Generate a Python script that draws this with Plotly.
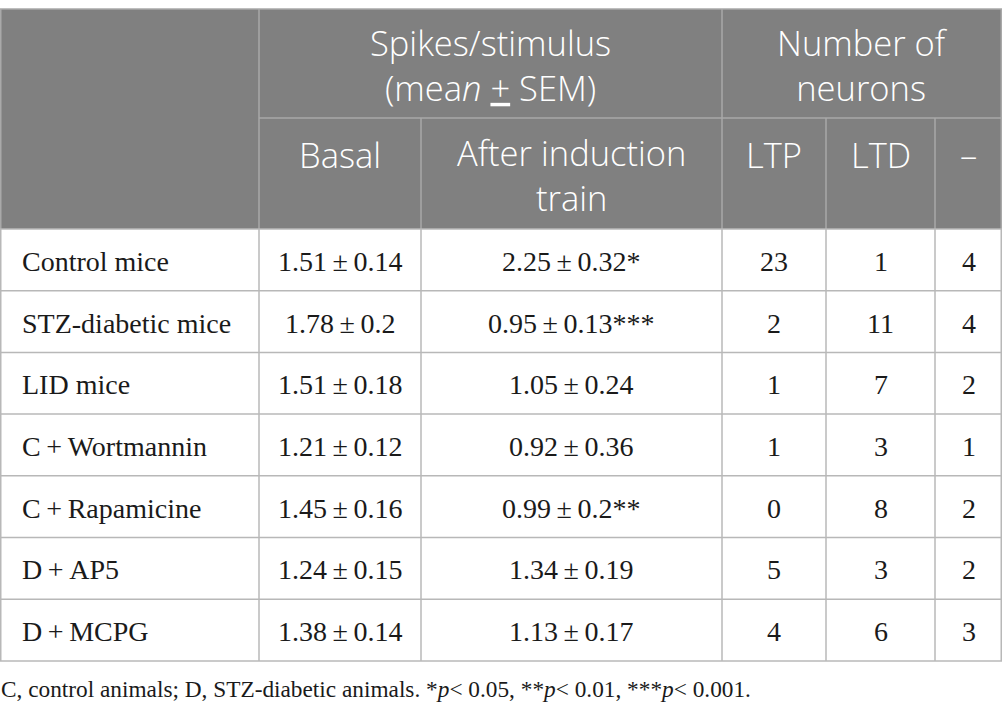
import plotly.graph_objects as go

# ---------------- data ----------------
groups = ["Control mice", "STZ-diabetic mice", "LID mice", "C\u2009+\u2009Wortmannin",
          "C\u2009+\u2009Rapamicine", "D\u2009+\u2009AP5", "D\u2009+\u2009MCPG"]
basal_mean = [1.51, 1.78, 1.51, 1.21, 1.45, 1.24, 1.38]
basal_sem = [0.14, 0.2, 0.18, 0.12, 0.16, 0.15, 0.14]
after_mean = [2.25, 0.95, 1.05, 0.92, 0.99, 1.34, 1.13]
after_sem = [0.32, 0.13, 0.24, 0.36, 0.2, 0.19, 0.17]
after_sig = ["*", "***", "", "", "**", "", ""]
n_ltp = [23, 2, 1, 1, 0, 5, 4]
n_ltd = [1, 11, 7, 3, 8, 3, 6]
n_none = [4, 4, 2, 1, 2, 2, 3]

header_top = ["Spikes/stimulus<br>(mea<i>n</i> <u>+</u> SEM)", "Number of<br>neurons"]
header_sub = ["Basal", "After induction<br>train", "LTP", "LTD", "\u2013"]
footnote = ("C, control animals; D, STZ-diabetic animals. *<i>p</i>< 0.05, "
            "**<i>p</i>< 0.01, ***<i>p</i>< 0.001.")

# ---------------- layout constants ----------------
W, H = 1002, 719
col_x = [0, 259, 421, 722, 826, 935, 1002]
y_top, y_mid, y_head = 9, 118, 229
row_h = 61.7
n = len(groups)
row_y = [y_head + i * row_h for i in range(n + 1)]

HEAD_BG = "#808080"
HEAD_LINE = "#a9a9a9"
BODY_LINE = "#b8b8b8"
SANS = "Open Sans"
SERIF = "Liberation Serif"
INK = "#1a1a1a"

fig = go.Figure()
shapes = []
ann = []

# header background
shapes.append(dict(type="rect", x0=col_x[0], x1=col_x[-1], y0=y_top, y1=y_head,
                   fillcolor=HEAD_BG, line=dict(width=0), layer="below"))

def hline(x0, x1, y, color, w=1.5):
    shapes.append(dict(type="line", x0=x0, x1=x1, y0=y, y1=y, line=dict(color=color, width=w)))

def vline(x, y0, y1, color, w=1.5):
    shapes.append(dict(type="line", x0=x, x1=x, y0=y0, y1=y1, line=dict(color=color, width=w)))

# header lines
hline(col_x[0], col_x[-1], y_top, HEAD_LINE)
hline(col_x[1], col_x[-1], y_mid, HEAD_LINE)
for x in (col_x[0] + 0.75, col_x[1], col_x[3], col_x[-1] - 0.75):
    vline(x, y_top, y_head, HEAD_LINE)
for x in (col_x[2], col_x[4], col_x[5]):
    vline(x, y_mid, y_head, HEAD_LINE)

# body lines
for y in row_y:
    hline(col_x[0], col_x[-1], y, BODY_LINE)
for i, x in enumerate(col_x):
    xx = x + 0.75 if i == 0 else (x - 0.75 if i == len(col_x) - 1 else x)
    vline(xx, row_y[0], row_y[-1], BODY_LINE)

def text(x, y, s, font, size, color, xanchor="center", weight=None):
    f = dict(family=font, size=size, color=color)
    if weight:
        f["weight"] = weight
    ann.append(dict(x=x, y=y, xref="x", yref="y", text=s, showarrow=False,
                    xanchor=xanchor, yanchor="middle", font=f, align="center", borderpad=0))

HS = 34.5
# header texts
top_centers = [(col_x[1] + col_x[3]) / 2, (col_x[3] + col_x[6]) / 2]
for cx, s in zip(top_centers, header_top):
    text(cx, 65, s, SANS, HS, "white", weight=300)
sub_centers = [(col_x[i] + col_x[i + 1]) / 2 for i in range(1, 6)]
for cx, s in zip(sub_centers, header_sub):
    cy = 175 if "<br>" in s else 154
    text(cx, cy, s, SANS, HS, "white", weight=300)

# body texts
BS = 28
fmt = lambda v: f"{v:g}"
for i in range(n):
    cy = (row_y[i] + row_y[i + 1]) / 2 + 1.5
    text(21, cy, groups[i], SERIF, BS, INK, xanchor="left")
    text(sub_centers[0], cy, f"{fmt(basal_mean[i])}\u2009±\u2009{fmt(basal_sem[i])}", SERIF, BS, INK)
    text(sub_centers[1], cy, f"{fmt(after_mean[i])}\u2009±\u2009{fmt(after_sem[i])}{after_sig[i]}", SERIF, BS, INK)
    text(sub_centers[2], cy, str(n_ltp[i]), SERIF, BS, INK)
    text(sub_centers[3], cy, str(n_ltd[i]), SERIF, BS, INK)
    text(sub_centers[4], cy, str(n_none[i]), SERIF, BS, INK)

# footnote
text(0, 689, footnote, SERIF, 23.3, INK, xanchor="left")

fig.update_layout(
    width=W, height=H, margin=dict(l=0, r=0, t=0, b=0),
    paper_bgcolor="white", plot_bgcolor="white",
    xaxis=dict(range=[0, W], visible=False, fixedrange=True),
    yaxis=dict(range=[H, 0], visible=False, fixedrange=True),
    shapes=shapes, annotations=ann, showlegend=False,
)
fig.write_html("out.html", config={"displayModeBar": False},
               post_script="document.body.style.margin='0';document.body.style.padding='0';")
